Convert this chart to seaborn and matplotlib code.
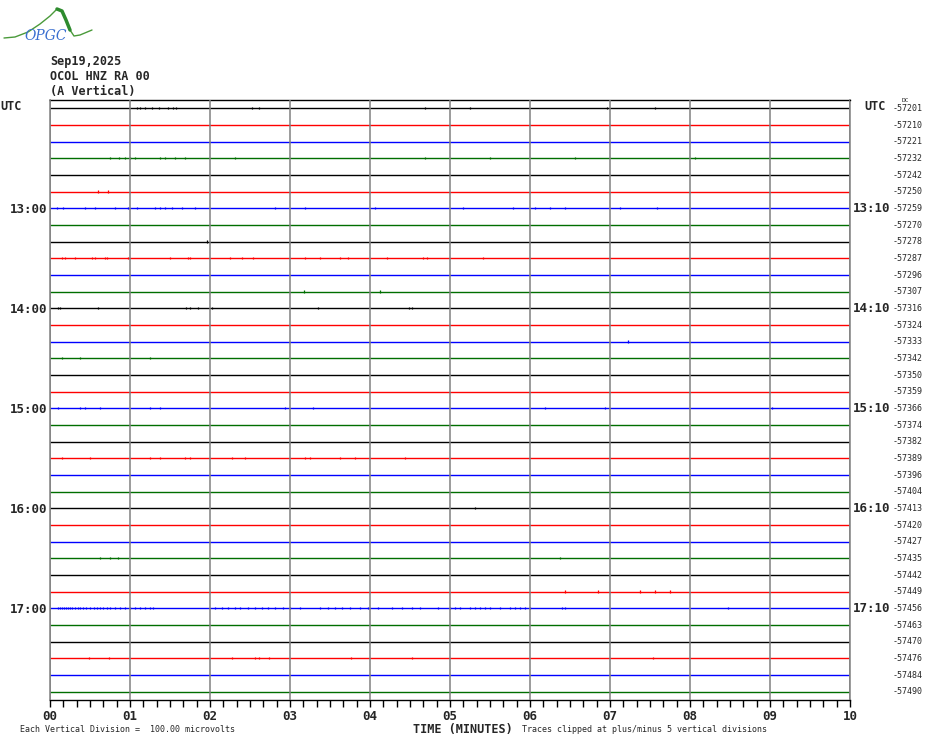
import numpy as np
import pandas as pd
import matplotlib
matplotlib.use("Agg")
import matplotlib.pyplot as plt
import matplotlib.transforms as mtransforms
import seaborn as sns

# Helicorder page: 36 traces of 10 minutes, OCOL HNZ
station_lines = ["Sep19,2025", "OCOL HNZ RA 00", "(A Vertical)"]
n_traces = 36
trace_colors = ["black", "#ff0000", "#0000ff", "#006e00"]

hour_rows = [6, 12, 18, 24, 30]
left_labels = ["13:00", "14:00", "15:00", "16:00", "17:00"]
right_labels = ["13:10", "14:10", "15:10", "16:10", "17:10"]

dc_values = [-57201, -57210, -57221, -57232, -57242, -57250, -57259, -57270,
             -57278, -57287, -57296, -57307, -57316, -57324, -57333, -57342,
             -57350, -57359, -57366, -57374, -57382, -57389, -57396, -57404,
             -57413, -57420, -57427, -57435, -57442, -57449, -57456, -57463,
             -57470, -57476, -57484, -57490]

minute_ticks = list(range(11))
minute_labels = ["%02d" % m for m in minute_ticks]

# small spikes seen on the traces (trace index -> minutes)
spikes = {
    0: [1.09, 1.12, 1.19, 1.28, 1.36, 1.48, 1.54, 1.57, 2.53, 2.61, 4.69, 5.25, 6.96, 7.56],
    3: [0.75, 0.86, 0.94, 1.0, 1.06, 1.38, 1.44, 1.56, 1.69, 2.31, 4.69, 5.5, 6.56, 8.06],
    5: [0.6, 0.72],
    6: [0.09, 0.16, 0.44, 0.56, 0.81, 0.98, 1.09, 1.31, 1.38, 1.44, 1.53, 1.65, 1.81,
        2.81, 3.19, 4.06, 5.16, 5.79, 6.06, 6.25, 6.44, 7.13, 7.59],
    8: [1.96],
    9: [0.15, 0.19, 0.31, 0.53, 0.56, 0.69, 0.71, 0.98, 1.5, 1.73, 1.75, 2.25, 2.4,
        2.54, 3.19, 3.38, 3.63, 3.73, 4.21, 4.66, 4.71, 5.41],
    11: [3.18, 4.13],
    12: [0.1, 0.13, 0.6, 1.7, 1.75, 1.85, 2.03, 3.35, 4.49, 4.53],
    14: [7.23],
    15: [0.15, 0.38, 1.25],
    18: [0.1, 0.38, 0.44, 0.63, 1.25, 1.38, 2.94, 3.29, 6.19, 6.94, 9.03],
    21: [0.15, 0.5, 1.25, 1.38, 1.69, 1.75, 2.28, 2.44, 3.19, 3.25, 3.63, 3.81, 4.44],
    24: [5.31],
    27: [0.63, 0.75, 0.85, 6.38],
    29: [6.44, 6.85, 7.38, 7.56, 7.75],
    30: [0.1, 0.13, 0.15, 0.18, 0.2, 0.23, 0.25, 0.28, 0.31, 0.35, 0.38, 0.41, 0.45,
         0.5, 0.55, 0.59, 0.63, 0.66, 0.71, 0.75, 0.81, 0.88, 0.94, 1.0, 1.06, 1.13,
         1.19, 1.25, 1.29, 2.06, 2.15, 2.23, 2.31, 2.38, 2.48, 2.56, 2.65, 2.73, 2.81,
         2.91, 3.0, 3.13, 3.38, 3.48, 3.56, 3.65, 3.75, 3.88, 3.98, 4.1, 4.28, 4.4,
         4.53, 4.63, 4.85, 5.0, 5.06, 5.13, 5.25, 5.31, 5.38, 5.44, 5.5, 5.63, 5.75,
         5.81, 5.88, 5.94, 6.0, 6.4, 6.44, 8.48],
    33: [0.49, 0.74, 2.28, 2.56, 2.61, 2.74, 3.76, 4.53, 7.54],
}

# logo outline (pixels)
logo_x = [4, 15, 28, 40, 50, 57, 62, 66, 70, 74, 80, 92]
logo_y = [38, 37, 32, 24, 16, 9, 11, 20, 30, 36, 35, 30]

mono = "DejaVu Sans Mono"

sns.set_style("white")
plt.rcParams["font.family"] = [mono, "DejaVu Sans"]

W, H = 930, 744
fig = plt.figure(figsize=(W / 100, H / 100), dpi=100)
ax = fig.add_axes([50 / W, 44 / H, 800 / W, 600 / H])

palette = [trace_colors[i % 4] for i in range(n_traces)]
base = pd.DataFrame({
    "minute": [0, 10] * n_traces,
    "row": np.repeat(np.arange(n_traces), 2),
    "trace": np.repeat(np.arange(n_traces), 2),
})
sns.lineplot(data=base, x="minute", y="row", hue="trace", palette=palette,
             estimator=None, legend=False, linewidth=1.0, ax=ax, zorder=2)

for row, mins in spikes.items():
    ax.vlines(mins, row - 0.08, row + 0.06, colors=palette[row], linewidth=0.9, zorder=3)

ax.set_xlim(0, 10)
ax.set_ylim(n_traces - 0.5, -0.5)

for m in minute_ticks:
    ax.axvline(m, color="#808080", linewidth=1.1, zorder=4)

ax.set_xticks(minute_ticks)
ax.set_xticklabels(minute_labels, fontsize=9, fontweight="bold")
ax.set_xticks(np.arange(0, 10.01, 1 / 6), minor=True)
ax.tick_params(axis="x", which="both", direction="out", length=5, width=1,
               color="black", pad=2, bottom=True)
ax.set_xlabel("")

ax.set_yticks(hour_rows)
ax.set_yticklabels(left_labels, fontsize=9, fontweight="bold")
ax.tick_params(axis="y", length=0, pad=2)
ax.set_ylabel("")

for side in ["left", "right"]:
    ax.spines[side].set_color("#808080")
    ax.spines[side].set_linewidth(1.1)
for side in ["top", "bottom"]:
    ax.spines[side].set_color("black")
    ax.spines[side].set_linewidth(1.0)

# right side labels
tr = mtransforms.blended_transform_factory(ax.transAxes, ax.transData)
for row, lab in zip(hour_rows, right_labels):
    ax.text(1.003, row, lab, transform=tr, fontsize=9, fontweight="bold",
            ha="left", va="center")
for row, val in enumerate(dc_values):
    ax.text(1.0535, row, str(val), transform=tr, fontsize=6, ha="left", va="center")
ax.text(1.0645, -0.35, "DC", transform=tr, fontsize=4.5, ha="left", va="bottom")
ax.text(1.018, -0.1, "UTC", transform=tr, fontsize=8.5, fontweight="bold",
        ha="left", va="center")
ax.text(-0.0625, -0.1, "UTC", transform=tr, fontsize=8.5, fontweight="bold",
        ha="left", va="center")

# header
for k, line in enumerate(station_lines):
    fig.text(50 / W, 1 - (61 + 15 * k) / H, line, fontsize=8.5, fontweight="bold",
             ha="left", va="center")

# footer
fig.text(463 / W, 1 - 729 / H, "TIME (MINUTES)", fontsize=8.5, fontweight="bold",
         ha="center", va="center")
fig.text(20 / W, 1 - 730 / H, "Each Vertical Division =  100.00 microvolts",
         fontsize=6, ha="left", va="center")
fig.text(522 / W, 1 - 730 / H, "Traces clipped at plus/minus 5 vertical divisions",
         fontsize=6, ha="left", va="center")

# logo
lax = fig.add_axes([0, 1 - 45 / H, 110 / W, 45 / H])
lax.plot(logo_x, logo_y, color="#4a9a3a", linewidth=1.0)
lax.plot(logo_x[5:9], logo_y[5:9], color="#2e8b2e", linewidth=2.5)
lax.text(46, 36, "OPGC", color="#3a6fd0", fontsize=10, fontstyle="italic",
         family="DejaVu Serif", ha="center", va="center")
lax.set_xlim(0, 110)
lax.set_ylim(45, 0)
lax.axis("off")

fig.savefig("out.png", dpi=100)
